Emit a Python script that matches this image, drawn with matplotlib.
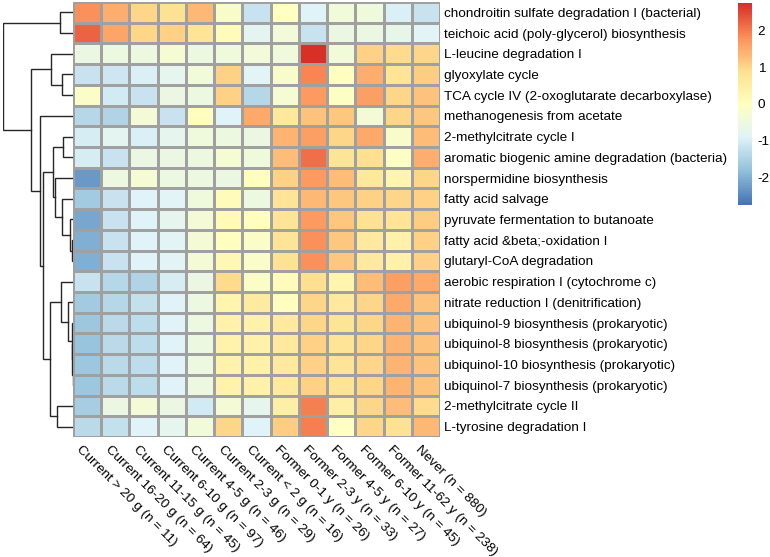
import numpy as np
import matplotlib
matplotlib.use("Agg")
import matplotlib.pyplot as plt
from matplotlib.colors import LinearSegmentedColormap

plt.rcParams['font.family'] = ['Liberation Sans', 'DejaVu Sans']
plt.rcParams['axes.unicode_minus'] = False

pathways = [
    "chondroitin sulfate degradation I (bacterial)",
    "teichoic acid (poly-glycerol) biosynthesis",
    "L-leucine degradation I",
    "glyoxylate cycle",
    "TCA cycle IV (2-oxoglutarate decarboxylase)",
    "methanogenesis from acetate",
    "2-methylcitrate cycle I",
    "aromatic biogenic amine degradation (bacteria)",
    "norspermidine biosynthesis",
    "fatty acid salvage",
    "pyruvate fermentation to butanoate",
    "fatty acid &beta;-oxidation I",
    "glutaryl-CoA degradation",
    "aerobic respiration I (cytochrome c)",
    "nitrate reduction I (denitrification)",
    "ubiquinol-9 biosynthesis (prokaryotic)",
    "ubiquinol-8 biosynthesis (prokaryotic)",
    "ubiquinol-10 biosynthesis (prokaryotic)",
    "ubiquinol-7 biosynthesis (prokaryotic)",
    "2-methylcitrate cycle II",
    "L-tyrosine degradation I",
]

groups = [
    "Current > 20 g (n = 11)", "Current 16-20 g (n = 64)", "Current 11-15 g (n = 45)",
    "Current 6-10 g (n = 97)", "Current 4-5 g (n = 46)", "Current 2-3 g (n = 29)",
    "Current < 2 g (n = 16)", "Former 0-1 y (n = 26)", "Former 2-3 y (n = 33)",
    "Former 4-5 y (n = 27)", "Former 6-10 y (n = 45)", "Former 11-62 y (n = 238)",
    "Never (n = 880)",
]

# z-scores, one row per pathway
values = np.array([
    [1.80, 1.45, 1.00, 0.85, 1.35, -0.20, -1.20, -0.05, -0.90, -0.40, -0.45, -0.95, -1.20],
    [2.20, 1.55, 1.00, 1.05, 0.80, 0.10, -0.80, -0.40, -1.20, -0.60, -0.60, -0.70, -0.85],
    [-0.60, -0.50, -0.55, -0.30, -0.50, -0.45, -0.40, -0.45, 2.70, -0.40, 1.05, 0.95, 1.00],
    [-1.20, -1.15, -0.95, -0.75, -0.40, 1.05, -0.85, -0.20, 1.90, 0.00, 1.45, 0.80, 1.15],
    [-0.15, -1.10, -1.20, -0.60, -0.55, 1.05, -1.40, -0.30, 1.70, -0.10, 1.60, 1.00, 1.25],
    [-1.40, -1.45, -0.35, -1.20, 0.02, -0.90, 1.50, 0.70, 1.25, 1.20, -0.35, 1.00, 1.20],
    [-1.00, -0.80, -0.95, -0.75, -0.45, -0.55, -0.60, 1.40, 1.60, 1.00, 1.50, -0.20, 1.30],
    [-1.00, -1.20, -0.60, -0.60, -0.50, -0.30, -0.45, 1.30, 2.10, 0.80, 0.92, -0.10, 1.45],
    [-2.30, -0.50, -0.30, -0.55, -0.50, -0.60, 0.00, 1.05, 1.70, 1.30, 0.70, 0.30, 1.00],
    [-1.60, -1.20, -0.90, -0.85, -0.45, 0.10, -0.55, 0.80, 1.35, 1.20, 1.05, 1.00, 1.05],
    [-2.10, -1.20, -0.90, -0.75, -0.35, 0.12, 0.02, 0.80, 1.70, 1.20, 0.85, 0.80, 1.10],
    [-2.00, -1.20, -0.90, -0.85, -0.35, 0.05, -0.15, 0.80, 1.80, 1.20, 0.65, 0.40, 1.05],
    [-2.00, -1.20, -0.90, -0.85, -0.35, 0.20, -0.15, 0.85, 1.80, 1.20, 0.65, 0.40, 1.05],
    [-1.20, -1.40, -1.45, -1.00, -0.60, 0.95, -0.15, 0.10, 0.92, 0.30, 1.30, 1.60, 1.50],
    [-1.60, -1.40, -1.25, -0.90, -0.55, 0.30, 0.60, 0.02, 1.00, 0.65, 1.00, 1.50, 1.25],
    [-1.70, -1.35, -1.30, -0.90, -0.55, 0.35, 0.40, 0.65, 1.00, 0.80, 1.00, 1.40, 1.25],
    [-1.75, -1.35, -1.30, -0.90, -0.55, 0.35, 0.40, 0.65, 1.05, 0.80, 1.00, 1.40, 1.25],
    [-1.70, -1.35, -1.30, -0.90, -0.55, 0.35, 0.40, 0.65, 1.05, 0.80, 1.00, 1.40, 1.25],
    [-1.70, -1.35, -1.30, -0.90, -0.55, 0.35, 0.40, 0.65, 1.05, 0.80, 1.00, 1.40, 1.25],
    [-1.55, -0.60, -0.35, -0.60, -1.05, -0.35, -0.75, 0.45, 1.95, 0.45, 1.00, 1.30, 0.95],
    [-1.35, -1.25, -0.90, -0.75, -0.40, 1.00, -0.90, 1.10, 1.95, -0.05, 1.00, 0.85, 1.35],
])

# row dendrogram: (left, right, height); leaves 0-20, new clusters numbered from 21
merges = [
    (17, 18, 0.004), (16, 21, 0.008), (15, 22, 0.014), (11, 12, 0.009),
    (10, 24, 0.047), (14, 23, 0.071), (6, 7, 0.142), (3, 4, 0.151),
    (9, 25, 0.151), (13, 26, 0.165), (0, 1, 0.189), (19, 20, 0.226),
    (8, 29, 0.259), (27, 33, 0.283), (2, 28, 0.321), (30, 32, 0.330),
    (34, 36, 0.434), (5, 37, 0.472), (35, 38, 0.604), (31, 39, 1.0),
]

cmap = LinearSegmentedColormap.from_list(
    "pheat", ["#4575B4", "#91BFDB", "#E0F3F8", "#FFFFBF", "#FEE090", "#FC8D59", "#D73027"], N=100)
vmin, vmax = -2.75, 2.75

W, H = 770, 557
fig = plt.figure(figsize=(W / 100, H / 100), dpi=100)

nr, nc = values.shape
top, bottom = 2, 437
ax = fig.add_axes([73 / W, 1 - bottom / H, 367 / W, (bottom - top) / H])
mesh = ax.pcolormesh(values, cmap=cmap, vmin=vmin, vmax=vmax,
                     edgecolors="#a0a0a0", linewidth=0.85)
ax.set_xlim(0, nc)
ax.set_ylim(nr, 0)
for s in ax.spines.values():
    s.set_visible(False)
ax.yaxis.tick_right()
ax.set_yticks(np.arange(nr) + 0.5)
ax.set_yticklabels(pathways, fontsize=9.7)
ax.set_xticks([])
ax.tick_params(axis="y", length=0, pad=3)
for j, g in enumerate(groups):
    ax.text(j + 0.35, nr + 0.3, g, rotation=-45, ha="left", va="top",
            rotation_mode="anchor", fontsize=9.7)

# dendrogram
dax = fig.add_axes([3 / W, 1 - bottom / H, 70 / W, (bottom - top) / H])
pos = {i: i + 0.5 for i in range(nr)}
hgt = {i: 0.0 for i in range(nr)}
for k, (a, b, h) in enumerate(merges):
    cid = nr + k
    dax.plot([hgt[a], h, h, hgt[b]], [pos[a], pos[a], pos[b], pos[b]],
             color="#262626", lw=1.0, solid_joinstyle="miter")
    pos[cid] = (pos[a] + pos[b]) / 2
    hgt[cid] = h
dax.set_xlim(1.0, 0)
dax.set_ylim(nr, 0)
dax.axis("off")

# legend bar
cax = fig.add_axes([738 / W, 1 - 205 / H, 14 / W, 202 / H])
cb = fig.colorbar(mesh, cax=cax)
cb.outline.set_visible(False)
cb.set_ticks([-2, -1, 0, 1, 2])
cb.ax.tick_params(length=0, labelsize=9.7, pad=4)

fig.savefig("out.png", dpi=100)
